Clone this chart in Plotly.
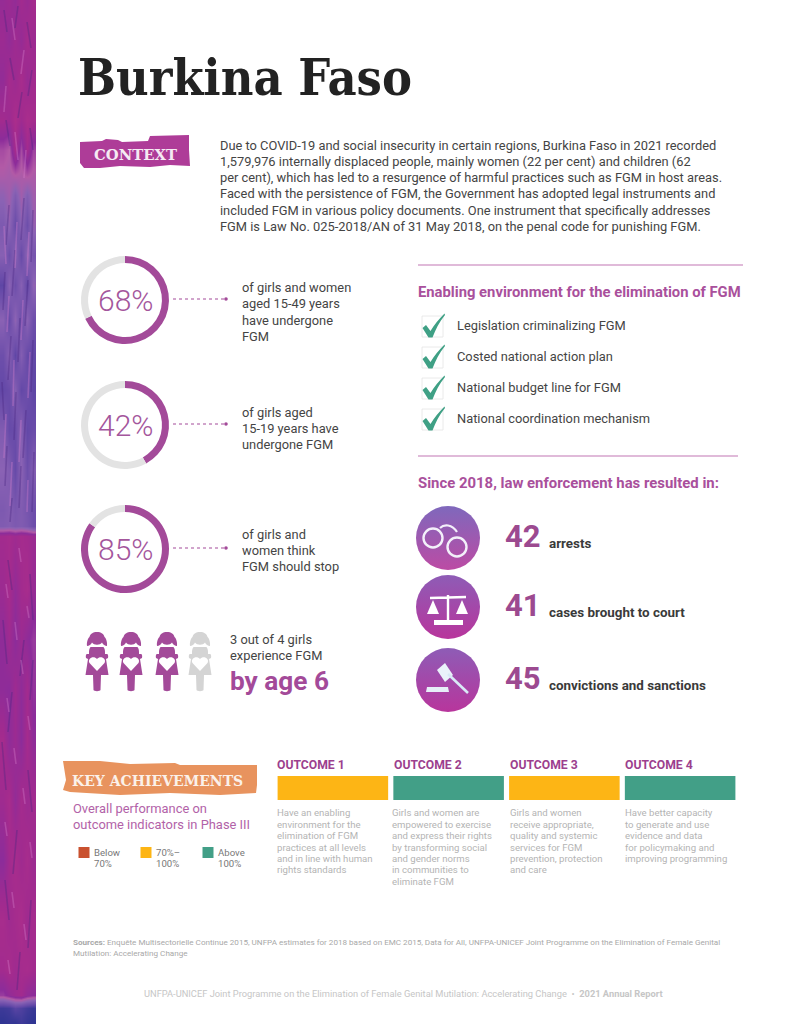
import plotly.graph_objects as go

# ---------- data ----------
TITLE = "Burkina Faso"
CONTEXT_LINES = [
    "Due to COVID-19 and social insecurity in certain regions, Burkina Faso in 2021 recorded",
    "1,579,976 internally displaced people, mainly women (22 per cent) and children (62",
    "per cent), which has led to a resurgence of harmful practices such as FGM in host areas.",
    "Faced with the persistence of FGM, the Government has adopted legal instruments and",
    "included FGM in various policy documents. One instrument that specifically addresses",
    "FGM is Law No. 025-2018/AN of 31 May 2018, on the penal code for punishing FGM.",
]
STAT_VALUES = [68, 42, 85]
STAT_LINES = [
    ["of girls and women", "aged 15-49 years", "have undergone", "FGM"],
    ["of girls aged", "15-19 years have", "undergone FGM"],
    ["of girls and", "women think", "FGM should stop"],
]
GIRLS_AFFECTED = 3
GIRLS_TOTAL = 4
GIRLS_LINES = ["3 out of 4 girls", "experience FGM"]
GIRLS_AGE = "by age 6"
ENV_TITLE = "Enabling environment for the elimination of FGM"
ENV_ITEMS = ["Legislation criminalizing FGM", "Costed national action plan",
             "National budget line for FGM", "National coordination mechanism"]
LAW_TITLE = "Since 2018, law enforcement has resulted in:"
LAW_COUNTS = [42, 41, 45]
LAW_LABELS = ["arrests", "cases brought to court", "convictions and sanctions"]
OUTCOMES = ["OUTCOME 1", "OUTCOME 2", "OUTCOME 3", "OUTCOME 4"]
OUTCOME_RATING = ["mid", "high", "mid", "high"]
OUTCOME_TEXT = [
    ["Have an enabling", "environment for the", "elimination of FGM", "practices at all levels",
     "and in line with human", "rights standards"],
    ["Girls and women are", "empowered to exercise", "and express their rights", "by transforming social",
     "and gender norms", "in communities to", "eliminate FGM"],
    ["Girls and women", "receive appropriate,", "quality and systemic", "services for FGM",
     "prevention, protection", "and care"],
    ["Have better capacity", "to generate and use", "evidence and data", "for policymaking and",
     "improving programming"],
]
RATING_KEYS = ["low", "mid", "high"]
RATING_LABELS = [["Below", "70%"], ["70%–", "100%"], ["Above", "100%"]]
KEY_LINES = ["Overall performance on", "outcome indicators in Phase III"]
SOURCE_LINES = [
    "<b>Sources:</b> Enquête Multisectorielle Continue 2015, UNFPA estimates for 2018 based on EMC 2015, Data for All, UNFPA-UNICEF Joint Programme on the Elimination of Female Genital",
    "Mutilation: Accelerating Change",
]
FOOTER = "UNFPA-UNICEF Joint Programme on the Elimination of Female Genital Mutilation: Accelerating Change  •  <b>2021 Annual Report</b>"

# side strip texture, read by eye: colour-ramp index per band and column
STRIP_Y = [0, 40, 80, 120, 150, 175, 195, 225, 255, 285, 320, 355, 390, 430, 470, 510, 526, 536,
           590, 640, 690, 740, 800, 860, 920, 970, 995, 1008, 1024]
STRIP_X = [3, 9, 15, 21, 27, 33]
STRIP_Z = [
    [.80, .84, .78, .88, .82, .90],
    [.84, .78, .86, .80, .90, .84],
    [.78, .90, .84, .92, .82, .88],
    [.88, .84, .94, .86, .94, .90],
    [.66, .62, .90, .66, .88, .68],
    [.60, .58, .62, .60, .64, .60],
    [.50, .56, .42, .56, .44, .56],
    [.40, .50, .28, .48, .30, .52],
    [.46, .30, .48, .26, .50, .36],
    [.22, .48, .30, .46, .24, .50],
    [.48, .26, .50, .28, .48, .30],
    [.30, .46, .22, .44, .26, .24],
    [.24, .28, .44, .24, .30, .22],
    [.42, .26, .28, .46, .24, .28],
    [.48, .42, .26, .48, .30, .44],
    [.40, .44, .38, .42, .36, .30],
    [.42, .44, .40, .42, .38, .30],
    [.88, .90, .86, .90, .88, .84],
    [.84, .90, .78, .88, .92, .80],
    [.76, .86, .74, .84, .76, .70],
    [.76, .74, .86, .76, .88, .72],
    [.90, .76, .84, .74, .90, .76],
    [.86, .92, .78, .90, .84, .88],
    [.74, .88, .92, .86, .92, .84],
    [.92, .86, .90, .94, .86, .90],
    [.88, .92, .86, .90, .92, .88],
    [.70, .78, .84, .88, .78, .74],
    [.08, .10, .20, .16, .10, .06],
    [.02, .04, .02, .08, .04, .02],
]
STRIP_SCALE = [[0, "#2a3290"], [.25, "#6549a8"], [.48, "#8a62b4"], [.62, "#b25aa6"],
               [.74, "#8c2c9a"], [.88, "#a22b8e"], [1, "#b2308a"]]
# fine streaks seen in the strip: x start, y start, x end, y end
DARK_STREAKS = [(4, 10, 7, 32), (18, 6, 15, 28), (27, 22, 31, 48), (10, 58, 14, 80), (32, 70, 28, 96), (22, 92, 18, 118),
                (6, 120, 10, 146), (30, 128, 33, 150), (9, 205, 6, 245), (24, 198, 21, 240), (33, 210, 31, 262),
                (15, 250, 12, 296), (5, 272, 3, 310), (28, 280, 25, 326), (20, 318, 18, 362), (11, 336, 8, 380),
                (33, 340, 31, 392), (2, 382, 4, 420), (16, 392, 14, 440), (26, 410, 23, 458), (7, 446, 5, 486),
                (21, 466, 19, 508), (34, 452, 32, 512), (12, 498, 10, 522),
                (8, 560, 12, 590), (30, 574, 33, 620), (3, 620, 7, 664), (24, 640, 20, 676), (33, 660, 30, 700),
                (12, 692, 8, 732), (2, 742, 6, 790), (28, 770, 32, 812), (17, 830, 13, 874), (5, 880, 9, 920),
                (31, 900, 28, 948), (20, 952, 17, 990)]
LIGHT_STREAKS = [(12, 18, 15, 40), (24, 50, 21, 74), (6, 86, 4, 112), (15, 132, 18, 160), (26, 150, 24, 178),
                 (4, 226, 6, 264), (17, 222, 15, 268), (29, 232, 27, 276), (9, 296, 7, 332), (23, 300, 21, 340),
                 (30, 352, 28, 398), (14, 360, 13, 406), (6, 414, 4, 458), (21, 420, 19, 462), (12, 462, 10, 506),
                 (28, 480, 27, 512), (19, 548, 21, 562), (6, 584, 8, 598), (27, 606, 29, 618), (15, 622, 17, 640),
                 (21, 660, 23, 674), (7, 698, 9, 712), (28, 716, 30, 730), (14, 748, 16, 764), (23, 788, 25, 804),
                 (5, 822, 7, 836), (30, 842, 32, 858), (12, 892, 14, 908), (24, 924, 26, 940), (8, 960, 10, 974)]

# ---------- style and layout constants ----------
W, H = 805, 1024
PURPLE = "#A34A99"
HEAD = "#A9509C"
RULE = "#D6A3CC"
DARK = "#444444"
GREY = "#E3E3E3"
GREEN = "#3FA085"
RATING_COLORS = {"low": "#C9512F", "mid": "#FDB515", "high": "#429F87"}
SANS = "Roboto"
SERIF = "DejaVu Serif"
STAT_CY = [300, 425, 549]
LAW_CY = [538, 607, 680]
ENV_Y = [326, 357, 388, 419]
GIRL_X = [97, 131, 167, 200]
BODY = 12.85

annotations, shapes = [], []


def txt(x, y, s, size=BODY, color=DARK, weight=400, family=SANS, anchor="left"):
    annotations.append(dict(x=x, y=y, xref="x", yref="y", text=s, showarrow=False, xanchor=anchor,
                            yanchor="middle", align="left", borderpad=0, borderwidth=0,
                            font=dict(family=family, size=size, color=color, weight=weight)))


def path(d, fill=None, line=None, width=0, opacity=1):
    shapes.append(dict(type="path", path=d, xref="x", yref="y", fillcolor=fill or "rgba(0,0,0,0)",
                       line=dict(color=line or "rgba(0,0,0,0)", width=width), opacity=opacity,
                       layer="above"))


def rel(cx, cy, cmds):
    """Icon outline given in local offsets: list of (command, x, y, x, y ...)."""
    out = []
    for c in cmds:
        pts = c[1:]
        out.append(c[0] + " " + " ".join(f"{(cx if i % 2 == 0 else cy) + v:.2f}" for i, v in enumerate(pts)))
    return " ".join(out)


def circle(cx, cy, r, fill=None, line=None, width=0):
    shapes.append(dict(type="circle", xref="x", yref="y", x0=cx - r, x1=cx + r, y0=cy - r, y1=cy + r,
                       fillcolor=fill or "rgba(0,0,0,0)", line=dict(color=line or "rgba(0,0,0,0)", width=width),
                       layer="above"))


def streak_trace(items, color, width):
    xs, ys = [], []
    for x0, y0, x1, y1 in items:
        xs += [x0, x1, None]
        ys += [y0, y1, None]
    return go.Scatter(x=xs, y=ys, mode="lines", line=dict(color=color, width=width), hoverinfo="skip", showlegend=False)


fig = go.Figure()

# side strip
fig.add_trace(go.Heatmap(x=STRIP_X, y=STRIP_Y, z=STRIP_Z, colorscale=STRIP_SCALE, zmin=0, zmax=1,
                         zsmooth="best", showscale=False, hoverinfo="skip"))
fig.add_trace(streak_trace(DARK_STREAKS, "rgba(72,36,130,0.35)", 1.6))
fig.add_trace(streak_trace(LIGHT_STREAKS, "rgba(214,130,205,0.35)", 1.6))

# title and context
txt(78, 77, f"<b>{TITLE}</b>", size=50, color="#222222", family="DejaVu Serif Condensed")
path("M 80 142 L 102 141 L 106 139 L 118 140 L 122 142 L 148 141 L 150 136 L 189 135 L 189 150 L 190 166 "
     "L 170 165 L 150 167 L 120 166 L 100 168 L 84 168 L 80 163 Z", fill="#AE3C98")
txt(135, 154.5, "<b>CONTEXT</b>", size=14.8, color="#F5EAF3", family=SERIF, anchor="center")
for y, s in zip([145.5, 161.5, 177.5, 193.5, 210.5, 226.5], CONTEXT_LINES):
    txt(220, y, s)

# donut statistics
STAT_TEXT_Y = [[287.5, 303.5, 320, 336], [412, 428, 444], [534, 550, 566]]
for v, cy, lines, ys in zip(STAT_VALUES, STAT_CY, STAT_LINES, STAT_TEXT_Y):
    r = 44
    fig.add_trace(go.Pie(values=[v, 100 - v], sort=False, direction="clockwise", rotation=0, hole=0.84,
                         marker=dict(colors=[PURPLE, GREY], line=dict(width=0)), textinfo="none",
                         hoverinfo="skip", showlegend=False,
                         domain=dict(x=[(125 - r) / W, (125 + r) / W],
                                     y=[1 - (cy + r) / H, 1 - (cy - r) / H])))
    txt(125, cy, f"{v}%", size=30, color="#A4569C", weight=300, anchor="center")
    shapes.append(dict(type="line", xref="x", yref="y", x0=173, x1=226, y0=cy - 1, y1=cy - 1,
                       line=dict(color=PURPLE, width=1, dash="dot"), layer="above"))
    circle(226, cy - 1, 1.8, fill=PURPLE)
    for y, s in zip(ys, lines):
        txt(242, y, s)

# girls
GIRL_HEAD = [("M", 0, 0), ("C", 4, 0, 7, 2, 7.5, 5), ("C", 9, 6, 10.5, 10, 10, 14), ("C", 8, 14, 6, 12.5, 5, 10.5),
             ("C", 3, 13.5, -3, 13.5, -5, 10.5), ("C", -6, 12.5, -8, 14, -10, 14), ("C", -10.5, 10, -9, 6, -7.5, 5),
             ("C", -7, 2, -4, 0, 0, 0), ("Z",)]
GIRL_BODY = [("M", -6, 15), ("L", 6, 15), ("C", 7, 15, 8, 17, 8, 20), ("L", 8, 22), ("L", 10, 22),
             ("C", 11, 22, 11.5, 24, 11, 26), ("L", 9, 27), ("L", 11.5, 43), ("L", 4, 43), ("L", 3.5, 58),
             ("C", 3, 59.5, -3, 59.5, -3.5, 58), ("L", -4, 43), ("L", -11.5, 43), ("L", -9, 27), ("L", -11, 26),
             ("C", -11.5, 24, -11, 22, -10, 22), ("L", -8, 22), ("L", -8, 20), ("C", -8, 17, -7, 15, -6, 15), ("Z",)]
GIRL_HEART = [("M", 0, 39), ("L", -7.5, 31), ("C", -10, 26, -3, 23, 0, 27), ("C", 3, 23, 10, 26, 7.5, 31), ("Z",)]
for i, cx in zip(range(GIRLS_TOTAL), GIRL_X):
    col = PURPLE if i < GIRLS_AFFECTED else "#D4D4D4"
    path(rel(cx, 632, GIRL_HEAD), fill=col)
    path(rel(cx, 632, GIRL_BODY), fill=col)
    path(rel(cx, 632, GIRL_HEART), fill="#FFFFFF")
for y, s in zip([639, 655], GIRLS_LINES):
    txt(230, y, s)
txt(230, 681, f"<b>{GIRLS_AGE}</b>", size=26.2, color=PURPLE)

# enabling environment
for y, x1 in zip([265, 456], [743, 738]):
    shapes.append(dict(type="line", xref="x", yref="y", x0=418, x1=x1, y0=y, y1=y,
                       line=dict(color=RULE, width=1.6), layer="above"))
txt(418, 291.5, f"<b>{ENV_TITLE}</b>", size=14.8, color=HEAD)
CHECK = [("M", .5, 12), ("L", 4, 9), ("L", 8.5, 15), ("C", 12, 9, 17, 3, 22.5, -2.5), ("L", 23, -1),
         ("C", 17, 6, 13.5, 14, 10.5, 21.5), ("L", 6.5, 21.5), ("Z",)]
for y, s in zip(ENV_Y, ENV_ITEMS):
    shapes.append(dict(type="rect", xref="x", yref="y", x0=422, x1=443, y0=y - 10, y1=y + 11,
                       fillcolor="#FFFFFF", line=dict(color="#E4E4E4", width=.8), layer="above"))
    path(rel(422, y - 10, CHECK), fill=GREEN)
    txt(457, y - 1, s)

# law enforcement
txt(418, 482.5, f"<b>{LAW_TITLE}</b>", size=14.9, color=HEAD)
fig.add_trace(go.Scatter(x=[448] * 3, y=LAW_CY, mode="markers", hoverinfo="skip", showlegend=False,
                         marker=dict(size=64, symbol="circle", color=["#7F68BC", "#8E5CB6", "#8E5CB6"],
                                     line=dict(width=0),
                                     gradient=dict(type="vertical", color=["#BC4BA4", "#B8359C", "#B8359C"]))))
for count, label, cy in zip(LAW_COUNTS, LAW_LABELS, LAW_CY):
    txt(505, cy - 2, f"<b>{count}</b>", size=31, color="#9C4A90")
    txt(549, cy + 5.5, f"<b>{label}</b>", size=13.4, color="#3a3a3a")
# handcuffs
cy = LAW_CY[0]
circle(433, cy, 9.5, line="#F3F0FA", width=2.4)
circle(457, cy + 9, 9.5, line="#F3F0FA", width=2.4)
path(rel(448, cy, [("M", -8, -10), ("C", -4, -14, 4, -14, 9, -6)]), line="#F3F0FA", width=2.2)
# scales
cy = LAW_CY[1]
path(rel(448, cy, [("M", -18, -9), ("L", 18, -10), ("M", 0, -12), ("L", 0, 14)]), line="#FFFFFF", width=2.4)
path(rel(448, cy, [("M", -14, 13), ("L", 15, 13), ("L", 15, 18), ("L", -14, 18), ("Z",)]), fill="#FFFFFF")
path(rel(448, cy, [("M", -15, -7), ("L", -9, 7), ("L", -21, 7), ("Z",)]), fill="#FFFFFF")
path(rel(448, cy, [("M", 14, -7), ("L", 20, 7), ("L", 8, 7), ("Z",)]), fill="#FFFFFF")
# gavel
cy = LAW_CY[2]
path(rel(448, cy, [("M", -11, -10), ("L", -3, -17), ("L", 5, -5), ("L", -3, 2), ("Z",)]), fill="#EAF2FA")
path(rel(448, cy, [("M", 0, -6), ("L", 20, 13)]), line="#D8EAF6", width=2.6)
path(rel(448, cy, [("M", -21, 7), ("L", 0, 7), ("L", 1, 12), ("L", -22, 12), ("Z",)]), fill="#E6EEF8")

# key achievements
path("M 63 761 L 100 761 L 130 764 L 175 763 L 180 765 L 210 765 L 257 765 L 257 785 L 256 793 L 220 795 "
     "L 170 793 L 120 795 L 70 792 L 63 790 L 66 780 Z", fill="#E8935E")
txt(72, 781, "<b>KEY ACHIEVEMENTS</b>", size=14, color="#FBF1EA", family=SERIF)
for y, s in zip([808, 824], KEY_LINES):
    txt(73, y, s, size=12.9, color="#B262A8")

fig.add_trace(go.Scatter(x=[84, 146, 208], y=[852.5] * 3, mode="markers", hoverinfo="skip", showlegend=False,
                         marker=dict(symbol="square", size=11, line=dict(width=0),
                                     color=[RATING_COLORS[k] for k in RATING_KEYS])))
for x, lines in zip([94, 156, 218], RATING_LABELS):
    txt(x, 852, lines[0], size=9.6, color="#777777")
    txt(x, 863, lines[1], size=9.6, color="#777777")

# outcomes: one bar per outcome on its own categorical axis
fig.add_trace(go.Bar(x=OUTCOMES, y=[1] * len(OUTCOMES), xaxis="x2", yaxis="y2", hoverinfo="skip", showlegend=False,
                     marker=dict(color=[RATING_COLORS[k] for k in OUTCOME_RATING], line=dict(width=0))))
OUT_X = [277, 394, 510, 625]
OUT_TEXT_X = [277, 392, 510, 625]
OUT_Y = [812, 824, 835, 847, 858, 869, 881]
for x, tx, name, lines in zip(OUT_X, OUT_TEXT_X, OUTCOMES, OUTCOME_TEXT):
    txt(x, 765, f"<b>{name}</b>", size=12.2, color="#9C3F8E")
    for y, s in zip(OUT_Y, lines):
        txt(tx, y, s, size=9.6, color="#B4B4B4")

# sources and footer
txt(73, 942, SOURCE_LINES[0], size=8.1, color="#A8A8A8")
txt(73, 953, SOURCE_LINES[1], size=8.1, color="#A8A8A8")
txt(403, 993, FOOTER, size=9.3, color="#C6C6C6", anchor="center")

hidden = dict(visible=False, fixedrange=True)
fig.update_layout(
    width=W, height=H, margin=dict(l=0, r=0, t=0, b=0), showlegend=False, autosize=False,
    paper_bgcolor="#FFFFFF", plot_bgcolor="rgba(0,0,0,0)",
    xaxis=dict(range=[0, W], domain=[0, 1], **hidden),
    yaxis=dict(range=[H, 0], domain=[0, 1], **hidden),
    xaxis2=dict(domain=[275 / W, 738 / W], anchor="y2", type="category", **hidden),
    yaxis2=dict(domain=[1 - 800 / H, 1 - 776 / H], anchor="x2", range=[0, 1], **hidden),
    bargap=0.045, annotations=annotations, shapes=shapes,
)
fig.write_html("out.html", config={"displayModeBar": False},
               post_script="document.body.style.margin='0';document.documentElement.style.overflow='hidden';")
